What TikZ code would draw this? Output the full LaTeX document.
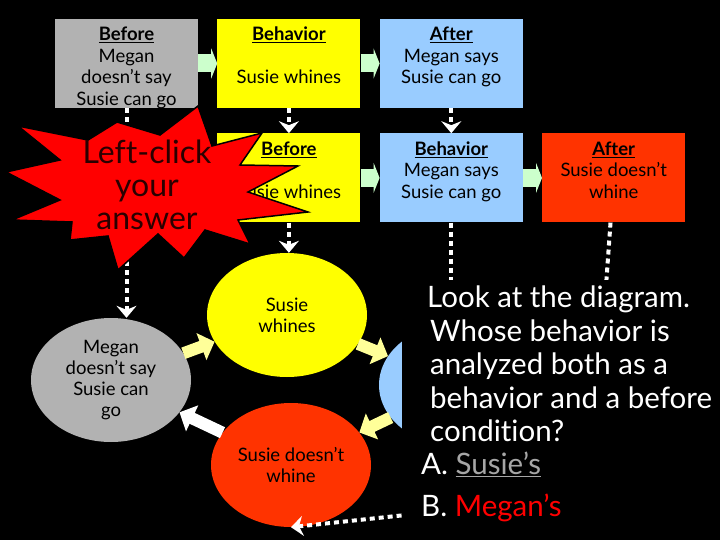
\documentclass[tikz,border=0pt]{standalone}
\usepackage{fontspec}
\setmainfont{Lato}[Ligatures=NoCommon]
\usetikzlibrary{arrows.meta,positioning,shapes.geometric}
\definecolor{slate}{HTML}{B2B2B2}
\definecolor{lemon}{HTML}{FFFF00}
\definecolor{sky}{HTML}{99CCFF}
\definecolor{flame}{HTML}{FF3300}
\definecolor{mint}{HTML}{CCFFCC}
\definecolor{cream}{HTML}{FFFF99}
\definecolor{burst}{HTML}{FF0000}
\definecolor{inkred}{HTML}{2A0000}
\definecolor{ashgray}{HTML}{A6A6A6}
\tikzset{
  stepcard/.style={
    rectangle, fill=#1, minimum width=143pt, minimum height=89pt,
    inner sep=0pt, text height=22pt, text depth=67pt,
    execute at begin node={\begin{minipage}[t]{143pt}\centering
      \fontsize{18.5}{21.5}\selectfont},
    execute at end node={\end{minipage}}
  },
  stepcard/.default=lemon,
  bubble/.style={
    ellipse, fill=#1, minimum width=160pt, minimum height=124pt,
    inner sep=0pt, align=center, font=\fontsize{18.5}{21}\selectfont
  },
  bubble/.default=lemon,
  flowarrow/.style={
    -{Triangle[length=6pt,width=30pt]}, line width=18pt, color=mint
  },
  cyclearrow/.style={
    -{Triangle[length=14pt,width=28pt]}, line width=12pt, color=#1
  },
  cyclearrow/.default=cream,
  dashline/.style={
    white, line width=4pt, dash pattern=on 5pt off 4pt
  },
  dasharrow/.style={
    dashline, -{Stealth[length=12pt,width=20pt,inset=4pt]}
  },
}
\begin{document}
\begin{tikzpicture}[x=1pt,y=-1pt]
  \path[use as bounding box, fill=black] (0,0) rectangle (720,540);

  % analysis boxes
  \node[stepcard=slate] (before1) at (126.5,63.5)
    {\underline{\textbf{Before}}\\Megan\\doesn’t say\\Susie can go};
  \node[stepcard=lemon, right=19pt of before1] (behav1)
    {\underline{\textbf{Behavior}}\\\mbox{}\\Susie whines};
  \node[stepcard=sky, right=19pt of behav1] (after1)
    {\underline{\textbf{After}}\\Megan says\\Susie can go};
  \node[stepcard=lemon, below=25pt of behav1] (before2)
    {\underline{\textbf{Before}}\\\mbox{}\\Susie whines};
  \node[stepcard=sky, right=19pt of before2] (behav2)
    {\underline{\textbf{Behavior}}\\Megan says\\Susie can go};
  \node[stepcard=flame, right=19pt of behav2] (after2)
    {\underline{\textbf{After}}\\Susie doesn’t\\whine};

  % cycle
  \node[bubble=slate] (grayE) at (111,380) {Megan\\doesn’t say\\Susie can\\go};
  \node[bubble=lemon] (yellowE) at (287,315) {Susie\\whines};
  \node[bubble=sky] (blueE) at (459,385) {};
  \node[bubble=flame] (redE) at (291,465) {Susie doesn’t\\whine};

  \draw[flowarrow] (before1) -- (behav1);
  \draw[flowarrow] (behav1) -- (after1);
  \draw[flowarrow] (before2) -- (behav2);
  \draw[flowarrow] (behav2) -- (after2);

  \draw[dasharrow] (behav1) -- (before2);
  \draw[dasharrow] (after1) -- (behav2);
  \draw[dasharrow] (before1.south) -- (before1.south |- grayE.north);
  \draw[dasharrow] (before2.south) -- (before2.south |- yellowE.north);
  \draw[dashline] (behav2.south) -- (behav2.south |- blueE.north);
  \coordinate (tail) at (605,300);
  \draw[dashline] (after2) -- (tail);
  \coordinate (loopEnd) at (500,505);
  \draw[dasharrow] (loopEnd) -- (redE.south);

  \draw[cyclearrow] (grayE) -- (yellowE);
  \draw[cyclearrow] (yellowE) -- (blueE);
  \draw[cyclearrow] (blueE) -- (redE);
  \draw[cyclearrow=white] (redE) -- (grayE);

  % starburst
  \filldraw[fill=burst, draw=black, line width=1.5pt]
    (117,122) -- (160,135) -- (198,106) -- (212,146) -- (262,133)
    -- (240,165) -- (298,166) -- (248,192) -- (308,212) -- (238,220)
    -- (250,244) -- (205,230) -- (184,258) -- (158,234) -- (118,270)
    -- (108,236) -- (70,240) -- (72,222) -- (12,220) -- (60,200)
    -- (6,172) -- (60,160) -- (18,126) -- (88,140) -- cycle;
  \node[text=inkred, align=center, font=\fontsize{32}{33}\selectfont]
    (hint) at (147,185) {Left-click\\your\\answer};

  % question
  \node[fill=black, anchor=north west, inner xsep=19pt, inner ysep=6pt,
    align=left, text=white, font=\fontsize{29.5}{33.4}\selectfont]
    (question) at (402,280)
    {\hspace{6pt}Look at the diagram.\\
     \hspace{9pt}Whose behavior is\\
     \hspace{9pt}analyzed both as a\\
     \hspace{9pt}behavior and a before\\
     \hspace{9pt}condition?\\
     A. {\color{ashgray}\underline{Susie’s}}\\[8pt]
     B. {\color{burst}Megan’s}};
\end{tikzpicture}
\end{document}
